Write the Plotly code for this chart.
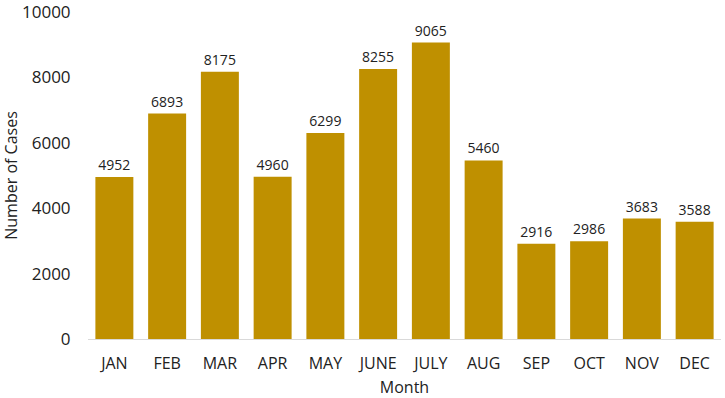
import plotly.graph_objects as go

months = ["JAN", "FEB", "MAR", "APR", "MAY", "JUNE", "JULY", "AUG", "SEP", "OCT", "NOV", "DEC"]
cases = [4952, 6893, 8175, 4960, 6299, 8255, 9065, 5460, 2916, 2986, 3683, 3588]
y_ticks = [0, 2000, 4000, 6000, 8000, 10000]

fig = go.Figure(go.Bar(
    x=months, y=cases,
    marker=dict(color="#BF9000", line=dict(width=0)),
    text=[str(v) for v in cases], textposition="outside",
    textfont=dict(size=14, color="#222222"),
    cliponaxis=False,
))
fig.update_layout(
    width=725, height=398,
    margin=dict(l=88, r=4, t=12, b=59),
    paper_bgcolor="white", plot_bgcolor="white",
    font=dict(family="Open Sans", color="#222222"),
    bargap=0.28,
    showlegend=False,
    xaxis=dict(title=dict(text="Month", font=dict(size=16), standoff=9),
               tickfont=dict(size=16), showline=True, linecolor="#D9D9D9",
               linewidth=1, ticks="outside", ticklen=10, tickcolor="rgba(0,0,0,0)",
               showgrid=False, automargin=False),
    yaxis=dict(title=dict(text="Number of Cases", font=dict(size=16), standoff=16),
               range=[0, 10000], tickvals=y_ticks, ticktext=[str(v) for v in y_ticks],
               tickfont=dict(size=17), ticks="outside", ticklen=13,
               tickcolor="rgba(0,0,0,0)", ticklabeloverflow="allow",
               showgrid=False, zeroline=False, showline=False,
               automargin=False),
)
fig.write_html("out.html", config={"displayModeBar": False},
               post_script="document.body.style.margin='0';document.body.style.overflow='hidden';")
